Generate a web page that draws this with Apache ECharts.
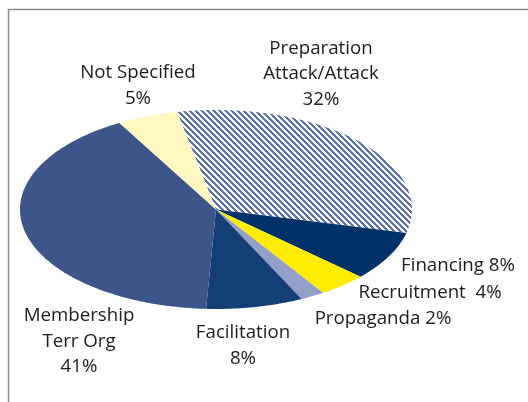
<!DOCTYPE html>
<html><head><meta charset="utf-8">
<script src="https://cdn.jsdelivr.net/npm/echarts@6/dist/echarts.min.js"></script>
<style>html,body{margin:0;padding:0;background:#fff}#c{width:528px;height:402px}</style>
</head><body><div id="c"></div>
<script>
// ---- data ----
const categories = ['Preparation\nAttack/Attack', 'Financing', 'Recruitment', 'Propaganda', 'Facilitation', 'Membership\nTerr Org', 'Not Specified'];
const values = [32, 8, 4, 2, 8, 41, 5];
const labelSeparators = ['\n', ' ', '  ', ' ', '\n', '\n', '\n'];

// ---- style ----
const sliceColors = ['pattern', '#003168', '#ffec00', '#929fc7', '#143e76', '#3e5589', '#fff8c0'];
const labelAnchors = [[321, 74], [458, 266], [430, 293], [383, 319], [243, 345.5], [79, 341.5], [138, 85.5]];
const pie = { cx: 216, cy: 209.5, rx: 196, ry: 99.5, startDeg: 101.5 };

// hatch pattern
const tile = document.createElement('canvas');
const P = 6;
tile.width = P; tile.height = P;
const tctx = tile.getContext('2d');
tctx.fillStyle = '#ffffff'; tctx.fillRect(0, 0, P, P);
tctx.fillStyle = '#5b6fa9';
for (let y = 0; y < P; y++) for (let x = 0; x < P; x++) {
  if ((((x - y) % P) + P) % P < P / 2) tctx.fillRect(x, y, 1, 1);
}

const total = values.reduce((a, b) => a + b, 0);
const cum = [];
values.reduce((acc, v, i) => { cum[i] = acc; return acc + v; }, 0);

const chart = echarts.init(document.getElementById('c'), null, { renderer: 'canvas' });
chart.setOption({
  animation: false,
  backgroundColor: '#ffffff',
  graphic: [{
    type: 'polyline',
    shape: { points: [[8.5, 402], [8.5, 9.5], [528, 9.5]] },
    style: { stroke: '#8a8a8a', lineWidth: 1.5, fill: null },
    silent: true
  }],
  series: [{
    type: 'custom',
    coordinateSystem: 'none',
    data: values.map((v, i) => [v, i]),
    renderItem: function (params, api) {
      const i = params.dataIndex;
      const v = api.value(0);
      const a0 = pie.startDeg - 360 * cum[i] / total;
      const a1 = a0 - 360 * v / total;
      const pts = [[pie.cx, pie.cy]];
      const steps = Math.max(4, Math.ceil(Math.abs(a1 - a0)));
      for (let k = 0; k <= steps; k++) {
        const a = (a0 + (a1 - a0) * k / steps) * Math.PI / 180;
        pts.push([pie.cx + pie.rx * Math.cos(a), pie.cy - pie.ry * Math.sin(a)]);
      }
      const fill = sliceColors[i] === 'pattern' ? { image: tile, repeat: 'repeat' } : sliceColors[i];
      return {
        type: 'group',
        children: [{
          type: 'polygon',
          shape: { points: pts },
          style: { fill: fill, stroke: null }
        }, {
          type: 'text',
          x: labelAnchors[i][0],
          y: labelAnchors[i][1],
          style: {
            text: categories[i] + labelSeparators[i] + v + '%',
            fill: '#1f1b1c',
            font: '18.7px "Open Sans"',
            lineHeight: 25.5,
            align: 'center',
            verticalAlign: 'middle'
          }
        }]
      };
    }
  }]
});
</script></body></html>
